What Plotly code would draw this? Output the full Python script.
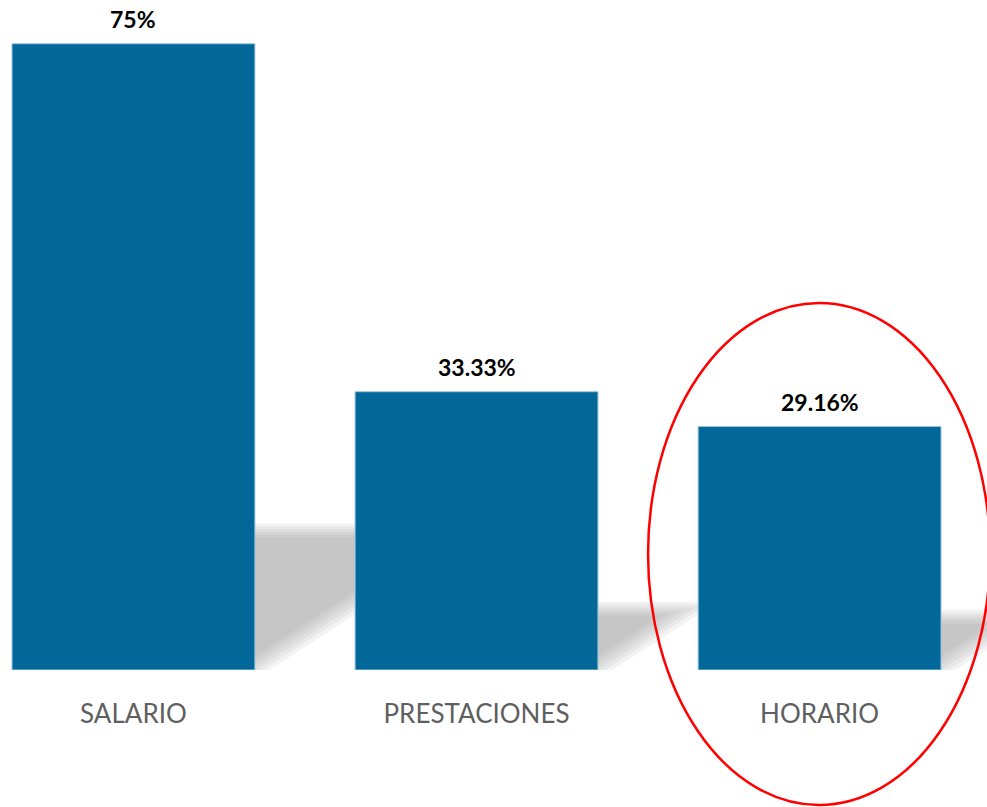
import plotly.graph_objects as go

categories = ["SALARIO", "PRESTACIONES", "HORARIO"]
values = [75, 33.33, 29.16]
value_labels = ["75%", "33.33%", "29.16%"]
highlight_index = 2

W, H = 987, 807
M_L, M_R, M_T, M_B = 0, 0, 0, 137
x_range = [-0.389, 2.488]
y_range = [0, 80.24]
bar_width = 0.708

plot_w = W - M_L - M_R
plot_h = H - M_T - M_B
xpx = plot_w / (x_range[1] - x_range[0])   # px per x unit
ypx = plot_h / (y_range[1] - y_range[0])   # px per y unit

bar_color = "#02689a"
xs = list(range(len(categories)))

fig = go.Figure()
fig.add_trace(go.Bar(
    x=xs, y=values, width=bar_width,
    marker=dict(color=bar_color, line=dict(color="#9cc6dc", width=1)),
    hoverinfo="skip",
))

# soft perspective shadows derived from bar geometry
shadow_ratio = 0.225
shear = 1.55
shapes = []
offsets = (-12, -8, -4, 0, 4, 8)
for i, v in zip(xs, values):
    xl = i - bar_width / 2
    xr = i + bar_width / 2
    hs_px = v * ypx * shadow_ratio
    for o in offsets:
        h = (hs_px + o * 0.7) / ypx
        xr_o = xr + (o * 1.8) / xpx
        dx = shear * (hs_px + o * 0.7) / xpx
        path = (f"M {xl},0 L {xr_o},0 L {xr_o + dx},{h} "
                f"L {xl + dx},{h} Z")
        shapes.append(dict(type="path", path=path, xref="x", yref="y",
                           fillcolor="rgba(150,150,150,0.11)",
                           line=dict(width=0), layer="below"))

# red ellipse highlighting one category
def x_to_paper(x):
    return (x - x_range[0]) / (x_range[1] - x_range[0])

hv = values[highlight_index]
ell = dict(type="circle", xref="paper", yref="paper",
           x0=x_to_paper(highlight_index - 0.5), x1=x_to_paper(highlight_index + 0.497),
           y0=-0.2015, y1=(hv + 14.8) / y_range[1],
           line=dict(color="#ff0000", width=2.5), layer="above")
shapes.append(ell)

annotations = []
for i, v, t in zip(xs, values, value_labels):
    annotations.append(dict(x=i, y=v, xref="x", yref="y", text=f"<b>{t}</b>",
                            showarrow=False, yanchor="bottom", yshift=9,
                            font=dict(family="Lato", size=23, color="#000000")))

fig.update_layout(
    width=W, height=H,
    margin=dict(l=M_L, r=M_R, t=M_T, b=M_B),
    paper_bgcolor="white", plot_bgcolor="white",
    showlegend=False,
    shapes=shapes, annotations=annotations,
    xaxis=dict(range=x_range, tickmode="array", tickvals=xs, ticktext=categories,
               showgrid=False, zeroline=False, showline=False, ticks="",
               ticklabelstandoff=26, fixedrange=True,
               tickfont=dict(family="Lato", size=26, color="#5f5f5f")),
    yaxis=dict(range=y_range, visible=False, showgrid=False, zeroline=False,
               fixedrange=True),
)

fig.write_html("out.html", config={"displayModeBar": False, "staticPlot": True},
               post_script="document.body.style.margin='0';document.body.style.overflow='hidden';")
